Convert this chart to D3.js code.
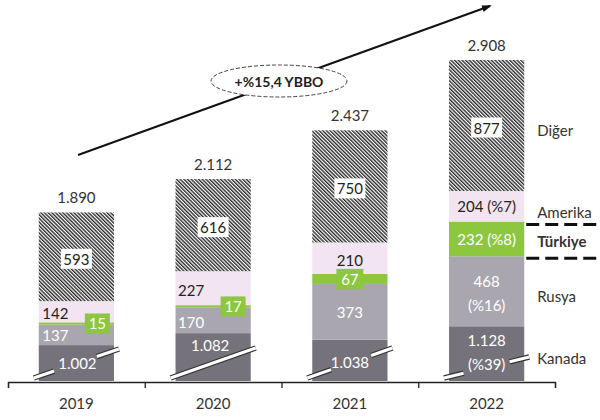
<!DOCTYPE html>
<html>
<head>
<meta charset="utf-8">
<script src="https://cdn.jsdelivr.net/npm/d3@7"></script>
<style>
  body { margin: 0; background: #fff; }
  svg { font-family: Lato, "Open Sans", sans-serif; }
</style>
</head>
<body>
<script>
// data
var years = ["2019", "2020", "2021", "2022"];
var kanada = [1002, 1082, 1038, 1128];
var rusya = [137, 170, 373, 468];
var turkiye = [15, 17, 67, 232];
var amerika = [142, 227, 210, 204];
var diger = [593, 616, 750, 877];
var totals = ["1.890", "2.112", "2.437", "2.908"];
var kanadaLabels = ["1.002", "1.082", "1.038", "1.128"];
var pct2022 = { kanada: "(%39)", rusya: "(%16)", turkiye: "(%8)", amerika: "(%7)" };
var seriesNames = ["Kanada", "Rusya", "Türkiye", "Amerika", "Diğer"];
var growthLabel = "+%15,4 YBBO";
var axisBreak = 762; // Kanada segment is cut (broken axis)

var width = 600, height = 420;
var keys = ["kanada", "rusya", "turkiye", "amerika", "diger"];
var colours = {
  kanada: "#75727b",
  rusya: "#a9a6b0",
  turkiye: "#8dc63f",
  amerika: "#f3e4f1",
  diger: "url(#hatch)"
};

var table = years.map(function(y, i) {
  return { year: y, kanada: kanada[i], rusya: rusya[i], turkiye: turkiye[i],
           amerika: amerika[i], diger: diger[i] };
});

var svg = d3.select("body").append("svg")
  .attr("width", width)
  .attr("height", height);

var defs = svg.append("defs");
var hatch = defs.append("pattern")
  .attr("id", "hatch")
  .attr("patternUnits", "userSpaceOnUse")
  .attr("width", 2.6)
  .attr("height", 2.6)
  .attr("patternTransform", "rotate(-45)");
hatch.append("rect").attr("width", 2.6).attr("height", 2.6).attr("fill", "#fff");
hatch.append("line")
  .attr("x1", 0.7).attr("y1", 0).attr("x2", 0.7).attr("y2", 2.6)
  .attr("stroke", "#1a1a1a").attr("stroke-width", 1.3);

defs.append("marker")
  .attr("id", "arrow")
  .attr("viewBox", "0 0 10 10")
  .attr("refX", 8).attr("refY", 5)
  .attr("markerWidth", 5).attr("markerHeight", 5)
  .attr("orient", "auto")
  .append("path")
    .attr("d", "M0,1.5L10,5L0,8.5Z")
    .attr("fill", "#111");

var x = d3.scaleBand()
  .domain(years)
  .range([8, 555])
  .paddingInner(0.45)
  .paddingOuter(0.225);

var y = d3.scaleLinear()
  .domain([axisBreak, 2908])
  .range([381, 60])
  .clamp(true);

var stacked = d3.stack().keys(keys)(table);

// bars
var layers = svg.append("g").selectAll("g")
  .data(stacked)
  .enter().append("g")
    .attr("fill", function(d) { return colours[d.key]; });

layers.selectAll("rect")
  .data(function(d) { return d; })
  .enter().append("rect")
    .attr("x", function(d) { return x(d.data.year); })
    .attr("width", x.bandwidth())
    .attr("y", function(d) { return y(d[1]); })
    .attr("height", function(d) { return y(d[0]) - y(d[1]); });

function seg(key, i) {
  var s = stacked[keys.indexOf(key)][i];
  return { top: y(s[1]), bottom: y(s[0]), mid: (y(s[0]) + y(s[1])) / 2 };
}
function cx(i) { return x(years[i]) + x.bandwidth() / 2; }

// break marks across Kanada segment
var gaps = [[0.24, 0.74], null, [0.28, 0.75], [0.23, 0.77]];
var slopes = [29, 30, 30, 21];
var breaks = svg.append("g");
years.forEach(function(yr, i) {
  var x0 = x(yr) - 5, x1 = x(yr) + x.bandwidth() + 5;
  var y0 = 378, y1 = 378 - slopes[i];
  var parts = gaps[i] ? [[0, gaps[i][0]], [gaps[i][1], 1]] : [[0, 1]];
  parts.forEach(function(p) {
    var ax = x0 + (x1 - x0) * p[0], ay = y0 + (y1 - y0) * p[0];
    var bx = x0 + (x1 - x0) * p[1], by = y0 + (y1 - y0) * p[1];
    breaks.append("line")
      .attr("x1", ax).attr("y1", ay).attr("x2", bx).attr("y2", by)
      .attr("stroke", "#333").attr("stroke-width", 5.5);
    breaks.append("line")
      .attr("x1", ax).attr("y1", ay).attr("x2", bx).attr("y2", by)
      .attr("stroke", "#fff").attr("stroke-width", 3);
  });
});

var labels = svg.append("g")
  .attr("font-size", 15)
  .attr("text-anchor", "middle")
  .attr("dominant-baseline", "central");

function txt(xp, yp, t, fill, weight) {
  return labels.append("text")
    .attr("x", xp).attr("y", yp)
    .attr("fill", fill || "#222")
    .attr("font-weight", weight || "normal")
    .text(t);
}
function boxed(xp, yp, t, bg, fill, w) {
  labels.append("rect")
    .attr("x", xp - w / 2).attr("y", yp - 10)
    .attr("width", w).attr("height", 20)
    .attr("fill", bg);
  txt(xp, yp, t, fill);
}

// totals
years.forEach(function(yr, i) {
  txt(cx(i), seg("diger", i).top - 15, totals[i], "#333");
  boxed(cx(i), seg("diger", i).mid + 2, diger[i], "#fff", "#222", 31);
});

// 2019
txt(cx(0) - 21, seg("amerika", 0).mid + 1, amerika[0], "#222");
txt(cx(0) - 21, seg("rusya", 0).mid, rusya[0], "#fff");
boxed(cx(0) + 21, seg("turkiye", 0).mid, turkiye[0], colours.turkiye, "#fff", 25);
txt(cx(0) + 1, seg("kanada", 0).mid, kanadaLabels[0], "#fff");

// 2020
txt(cx(1) - 22, seg("amerika", 1).mid + 2, amerika[1], "#222");
txt(cx(1) - 22, seg("rusya", 1).mid + 2, rusya[1], "#fff");
boxed(cx(1) + 20, seg("turkiye", 1).mid, turkiye[1], colours.turkiye, "#fff", 25);
txt(cx(1) - 3, seg("kanada", 1).mid - 12, kanadaLabels[1], "#fff");

// 2021
txt(cx(2), seg("amerika", 2).mid + 2, amerika[2], "#222");
boxed(cx(2), seg("turkiye", 2).mid, turkiye[2], colours.turkiye, "#fff", 27);
txt(cx(2), seg("rusya", 2).mid, rusya[2], "#fff");
txt(cx(2), seg("kanada", 2).mid + 2, kanadaLabels[2], "#fff");

// 2022
txt(cx(3), seg("amerika", 3).mid, amerika[3] + " " + pct2022.amerika, "#222");
txt(cx(3), seg("turkiye", 3).mid, turkiye[3] + " " + pct2022.turkiye, "#fff");
txt(cx(3), seg("rusya", 3).mid - 10, rusya[3], "#fff");
txt(cx(3), seg("rusya", 3).mid + 14, pct2022.rusya, "#fff");
txt(cx(3), seg("kanada", 3).mid - 14, kanadaLabels[3], "#fff");
txt(cx(3), seg("kanada", 3).mid + 10, pct2022.kanada, "#fff");

// series names on the right
var lx = x(years[3]) + x.bandwidth() + 13;
var nameY = [seg("kanada", 3).mid + 4, seg("rusya", 3).mid + 5, seg("turkiye", 3).mid + 2,
             seg("amerika", 3).mid + 6, seg("diger", 3).mid + 4];
var legend = svg.append("g")
  .attr("font-size", 15)
  .attr("dominant-baseline", "central");
seriesNames.forEach(function(n, i) {
  legend.append("text")
    .attr("x", lx).attr("y", nameY[i])
    .attr("fill", "#333")
    .attr("font-weight", n === "Türkiye" ? "bold" : "normal")
    .text(n);
});

// dashed frame around Türkiye
[seg("turkiye", 3).top + 3, seg("turkiye", 3).bottom + 2].forEach(function(yy) {
  svg.append("line")
    .attr("x1", x(years[3]) + x.bandwidth() + 2).attr("x2", 600)
    .attr("y1", yy).attr("y2", yy)
    .attr("stroke", "#111").attr("stroke-width", 3)
    .attr("stroke-dasharray", "13,6");
});

// x axis
var edges = d3.scaleLinear().domain([0, years.length]).range([8, 555]);
svg.append("g")
  .attr("transform", "translate(0,382)")
  .call(d3.axisBottom(edges).tickValues(d3.range(years.length + 1))
    .tickSize(6).tickSizeOuter(6).tickFormat(""))
  .call(function(g) {
    g.select(".domain").attr("stroke", "#222").attr("stroke-width", 1.3);
    g.selectAll(".tick line").attr("stroke", "#222").attr("stroke-width", 1.3);
  });

svg.append("g")
  .attr("transform", "translate(0,382)")
  .call(d3.axisBottom(x).tickSize(0).tickPadding(16))
  .call(function(g) {
    g.select(".domain").remove();
    g.selectAll("text")
      .attr("font-size", 15)
      .attr("font-family", "Lato, sans-serif")
      .attr("fill", "#333");
  });

// growth arrow
svg.append("line")
  .attr("x1", 78).attr("y1", 155)
  .attr("x2", 490).attr("y2", 6)
  .attr("stroke", "#111").attr("stroke-width", 2)
  .attr("marker-end", "url(#arrow)");

svg.append("ellipse")
  .attr("cx", 279).attr("cy", 81)
  .attr("rx", 68).attr("ry", 16)
  .attr("fill", "#fff")
  .attr("stroke", "#444").attr("stroke-width", 1)
  .attr("stroke-dasharray", "4,2");

svg.append("text")
  .attr("x", 279).attr("y", 81)
  .attr("text-anchor", "middle")
  .attr("dominant-baseline", "central")
  .attr("font-size", 14)
  .attr("font-weight", "bold")
  .attr("fill", "#222")
  .text(growthLabel);
</script>
</body>
</html>
